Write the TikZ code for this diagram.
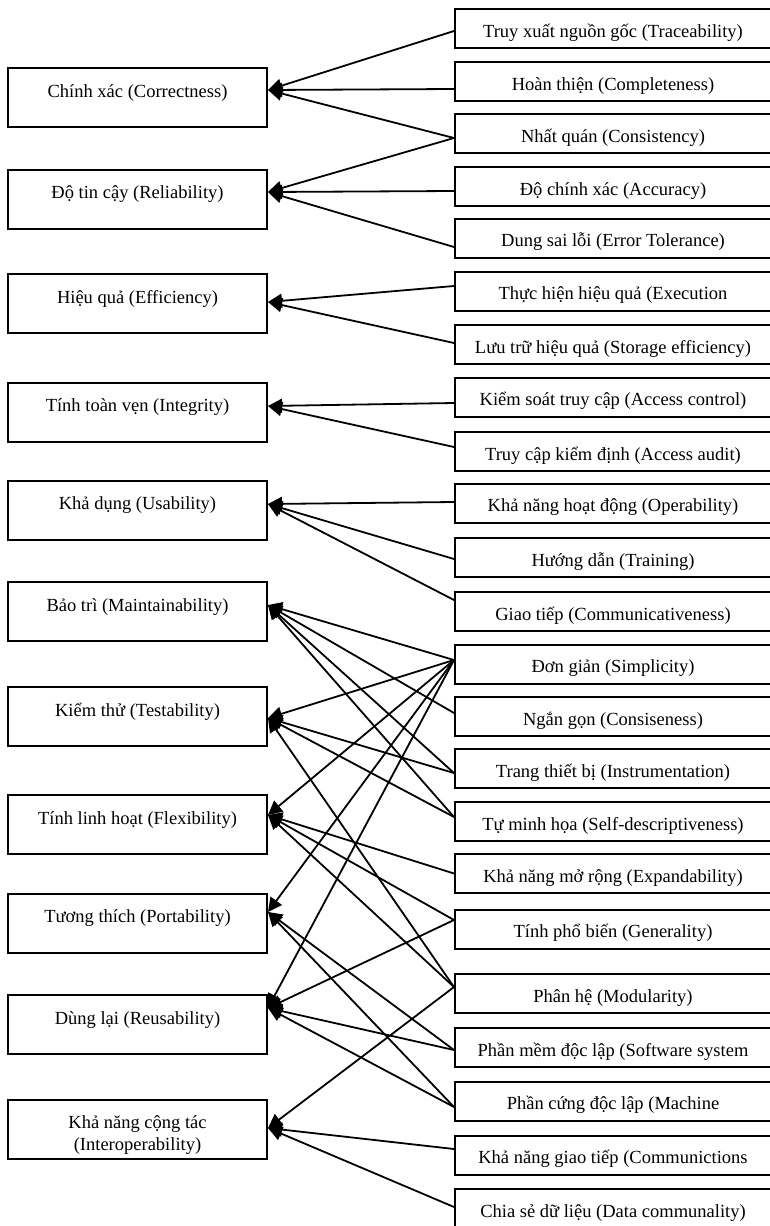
\documentclass[tikz,border=0pt]{standalone}
\usepackage{fontspec}
\setmainfont{Liberation Serif}
\usepackage{tikz}
\usetikzlibrary{shapes,arrows.meta}
\newcommand{\boxfont}{\fontsize{18.5pt}{22pt}\selectfont}
\tikzstyle{lbox} = [rectangle, draw, line width=2pt, font=\boxfont, align=center, minimum width=259pt, minimum height=59pt, inner ysep=6pt, text height=23pt, text depth=24pt]
\tikzstyle{rbox} = [rectangle, draw, line width=2pt, font=\boxfont, minimum width=316pt, minimum height=39pt, inner ysep=4pt, text height=24pt, text depth=7pt]
\tikzstyle{arr} = [draw, line width=1.8pt, -{Triangle[length=14pt, width=14pt]}]

\begin{document}
\begin{tikzpicture}[x=1pt, y=-1pt]
			\useasboundingbox (0,0) rectangle (770,1226);
			% factors
			\node [lbox] (corr) at (137.5, 97.5) {Chính xác (Correctness)};
			\node [lbox] (rel) at (137.5, 199) {Độ tin cậy (Reliability)};
			\node [lbox] (eff) at (137.5, 303.5) {Hiệu quả (Efficiency)};
			\node [lbox] (integ) at (137.5, 412) {Tính toàn vẹn (Integrity)};
			\node [lbox] (usab) at (137.5, 510) {Khả dụng (Usability)};
			\node [lbox] (maint) at (137.5, 611.5) {Bảo trì (Maintainability)};
			\node [lbox] (test) at (137.5, 716.5) {Kiểm thử (Testability)};
			\node [lbox] (flex) at (137.5, 824.5) {Tính linh hoạt (Flexibility)};
			\node [lbox] (port) at (137.5, 923) {Tương thích (Portability)};
			\node [lbox] (reus) at (137.5, 1024.5) {Dùng lại (Reusability)};
			\node [lbox, text height=45pt, text depth=2pt] (inter) at (137.5, 1129) {Khả năng cộng tác\\(Interoperability)};

			\coordinate (corr-in) at ([yshift=7.5pt]corr.east);
			\coordinate (rel-in) at ([yshift=7pt]rel.east);
			\coordinate (eff-in) at ([yshift=1.5pt]eff.east);
			\coordinate (integ-in) at ([yshift=6pt]integ.east);
			\coordinate (usab-in) at ([yshift=6pt]usab.east);
			\coordinate (maint-in) at ([yshift=6.5pt]maint.east);
			\coordinate (test-in) at ([yshift=-1.5pt]test.east);
			\coordinate (flex-in) at ([yshift=9.5pt]flex.east);
			\coordinate (port-in) at ([yshift=11pt]port.east);
			\coordinate (reus-in) at ([yshift=16.5pt]reus.east);
			\coordinate (inter-in) at ([yshift=1pt]inter.east);

			% criteria
			\node [rbox] (trace) at (613, 28.5) {Truy xuất nguồn gốc (Traceability)};
			\node [rbox] (compl) at (613, 81.5) {Hoàn thiện (Completeness)};
			\node [rbox] (consis) at (613, 133.5) {Nhất quán (Consistency)};
			\node [rbox] (accur) at (613, 186.5) {Độ chính xác (Accuracy)};
			\node [rbox] (errtol) at (613, 238) {Dung sai lỗi (Error Tolerance)};
			\node [rbox] (exec) at (613, 291) {Thực hiện hiệu quả (Execution};
			\node [rbox] (stor) at (613, 344.5) {Lưu trữ hiệu quả (Storage efficiency)};
			\node [rbox] (accctl) at (613, 397) {Kiểm soát truy cập (Access control)};
			\node [rbox] (audit) at (613, 451.5) {Truy cập kiểm định (Access audit)};
			\node [rbox] (oper) at (613, 503) {Khả năng hoạt động (Operability)};
			\node [rbox] (train) at (613, 557.5) {Hướng dẫn (Training)};
			\node [rbox] (comm) at (613, 611.5) {Giao tiếp (Communicativeness)};
			\node [rbox] (simp) at (613, 664) {Đơn giản (Simplicity)};
			\node [rbox] (conc) at (613, 716.5) {Ngắn gọn (Consiseness)};
			\node [rbox] (instr) at (613, 768.5) {Trang thiết bị (Instrumentation)};
			\node [rbox] (selfd) at (613, 821.5) {Tự minh họa (Self-descriptiveness)};
			\node [rbox] (expand) at (613, 873.5) {Khả năng mở rộng (Expandability)};
			\node [rbox] (gener) at (613, 929) {Tính phổ biến (Generality)};
			\node [rbox] (modul) at (613, 993.5) {Phân hệ (Modularity)};
			\node [rbox] (swind) at (613, 1047.5) {Phần mềm độc lập (Software system};
			\node [rbox] (hwind) at (613, 1101) {Phần cứng độc lập (Machine};
			\node [rbox] (commun) at (613, 1155) {Khả năng giao tiếp (Communictions};
			\node [rbox] (data) at (613, 1208.5) {Chia sẻ dữ liệu (Data communality)};

			\path [arr] ([yshift=-2.5pt]trace.west) -- (corr-in);
			\path [arr] ([yshift=-7.5pt]compl.west) -- (corr-in);
			\path [arr] ([yshift=-4.5pt]consis.west) -- (corr-in);
			\path [arr] ([yshift=-4.5pt]consis.west) -- (rel-in);
			\path [arr] ([yshift=-4.5pt]accur.west) -- (rel-in);
			\path [arr] ([yshift=-9pt]errtol.west) -- (rel-in);
			\path [arr] ([yshift=5pt]exec.west) -- (eff-in);
			\path [arr] ([yshift=1.5pt]stor.west) -- (eff-in);
			\path [arr] ([yshift=-6pt]accctl.west) -- (integ-in);
			\path [arr] ([yshift=4.5pt]audit.west) -- (integ-in);
			\path [arr] ([yshift=1pt]oper.west) -- (usab-in);
			\path [arr] ([yshift=-1.5pt]train.west) -- (usab-in);
			\path [arr] ([yshift=11.5pt]comm.west) -- (usab-in);
			\path [arr] ([yshift=4pt]simp.west) -- (maint-in);
			\path [arr] ([yshift=4pt]simp.west) -- (test-in);
			\path [arr] ([yshift=4pt]simp.west) -- (flex-in);
			\path [arr] ([yshift=4pt]simp.west) -- (port-in);
			\path [arr] ([yshift=4pt]simp.west) -- (reus-in);
			\path [arr] ([yshift=3.5pt]conc.west) -- (maint-in);
			\path [arr] ([yshift=-4.5pt]instr.west) -- (maint-in);
			\path [arr] ([yshift=-4.5pt]instr.west) -- (test-in);
			\path [arr] ([yshift=4.5pt]selfd.west) -- (maint-in);
			\path [arr] ([yshift=4.5pt]selfd.west) -- (test-in);
			\path [arr] (expand.west) -- (flex-in);
			\path [arr] ([yshift=9pt]gener.west) -- (flex-in);
			\path [arr] ([yshift=9pt]gener.west) -- (reus-in);
			\path [arr] ([yshift=6.5pt]modul.west) -- (test-in);
			\path [arr] ([yshift=6.5pt]modul.west) -- (flex-in);
			\path [arr] ([yshift=6.5pt]modul.west) -- (inter-in);
			\path [arr] ([yshift=-2.5pt]swind.west) -- (port-in);
			\path [arr] ([yshift=-2.5pt]swind.west) -- (reus-in);
			\path [arr] ([yshift=-6pt]hwind.west) -- (port-in);
			\path [arr] ([yshift=-6pt]hwind.west) -- (reus-in);
			\path [arr] ([yshift=6pt]commun.west) -- (inter-in);
			\path [arr] ([yshift=1.5pt]data.west) -- (inter-in);
		\end{tikzpicture}
\end{document}
